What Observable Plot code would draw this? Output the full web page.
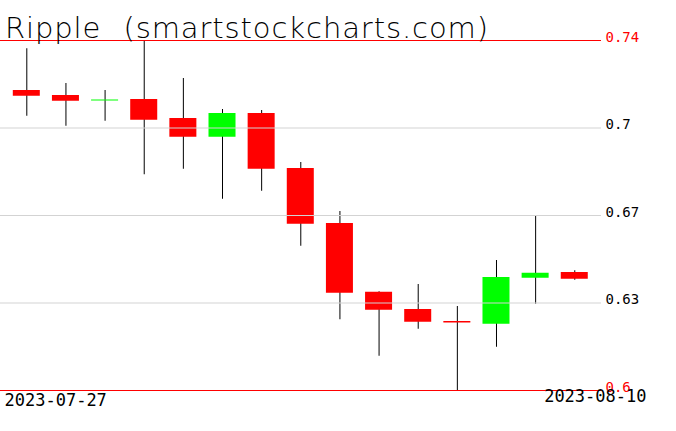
<!DOCTYPE html>
<html>
<head>
<meta charset="utf-8">
<script src="https://cdn.jsdelivr.net/npm/d3@7"></script>
<script src="https://cdn.jsdelivr.net/npm/@observablehq/plot@0.6"></script>
<style>
  html, body { margin: 0; padding: 0; background: #fff; }
  #wrap { position: relative; width: 676px; height: 431px; }
  #title { position: absolute; left: 5px; top: 14px; font-family: "DejaVu Sans ExtraLight", "DejaVu Sans"; font-weight: 200; font-size: 29px; letter-spacing: 0.9px; word-spacing: 12px; color: #000; white-space: nowrap; pointer-events: none; line-height: 1; }
</style>
</head>
<body>
<div id="wrap">
  <div id="chart"></div>
  <div id="title">Ripple (smartstockcharts.com)</div>
</div>
<script>
const dates = ["2023-07-27","2023-07-28","2023-07-29","2023-07-30","2023-07-31","2023-08-01","2023-08-02","2023-08-03","2023-08-04","2023-08-05","2023-08-06","2023-08-07","2023-08-08","2023-08-09","2023-08-10"];
const open  = [0.7200,0.7180,0.7158,0.7164,0.7088,0.7013,0.7108,0.6888,0.6668,0.6393,0.6324,0.6276,0.6265,0.6449,0.6472];
const high  = [0.7367,0.7228,0.7200,0.7396,0.7248,0.7124,0.7120,0.6912,0.6716,0.6395,0.6424,0.6336,0.6520,0.6697,0.6479];
const low   = [0.7097,0.7057,0.7077,0.6863,0.6885,0.6765,0.6797,0.6577,0.6283,0.6137,0.6245,0.6000,0.6173,0.6345,0.6441];
const close = [0.7177,0.7157,0.7162,0.7081,0.7013,0.7108,0.6885,0.6665,0.6389,0.6321,0.6273,0.6270,0.6452,0.6469,0.6445];
const yTicks = [0.6, 0.635, 0.67, 0.705, 0.74];
const yTickLabels = ["0.6", "0.63", "0.67", "0.7", "0.74"];
const dateLabels = [dates[0], dates[dates.length - 1]];

const data = dates.map((d, i) => ({i, date: d, open: open[i], high: high[i], low: low[i], close: close[i]}));
const half = 0.345;
const ticks = yTicks.map((v, k) => ({v, label: yTickLabels[k], edge: k === 0 || k === yTicks.length - 1}));

const chart = Plot.plot({
  width: 676,
  height: 431,
  marginLeft: 0,
  marginRight: 75,
  marginTop: 40,
  marginBottom: 41,
  x: {type: "linear", domain: [-0.672, 14.683], axis: null},
  y: {domain: [0.6, 0.74], axis: null},
  style: {background: "#fff"},
  marks: [
    Plot.ruleX(data, {x: "i", y1: "low", y2: "high", stroke: "#000", strokeWidth: 1}),
    Plot.rect(data, {
      x1: d => d.i - half, x2: d => d.i + half,
      y1: "open", y2: "close",
      fill: d => d.close >= d.open ? "#00ff00" : "#ff0000"
    }),
    Plot.ruleY(ticks.filter(t => !t.edge), {y: "v", stroke: "#d3d3d3", strokeWidth: 1}),
    Plot.ruleY(ticks.filter(t => t.edge), {y: "v", stroke: "#ff0000", strokeWidth: 1}),
    Plot.text(ticks, {
      y: "v", text: "label", frameAnchor: "right", dx: 4, textAnchor: "start", lineAnchor: "bottom",
      fill: d => d.edge ? "#ff0000" : "#000",
      fontFamily: "DejaVu Sans Mono", fontSize: 14, dy: 1
    }),
    Plot.text([dateLabels[0]], {
      frameAnchor: "bottom-left", text: d => d, textAnchor: "start", lineAnchor: "top",
      dx: 4, dy: 3, fontFamily: "DejaVu Sans Mono", fontSize: 17, fill: "#000"
    }),
    Plot.text([dateLabels[1]], {
      frameAnchor: "bottom-right", text: d => d, textAnchor: "end", lineAnchor: "top",
      dx: 45, dy: -1, fontFamily: "DejaVu Sans Mono", fontSize: 17, fill: "#000"
    })
  ]
});
document.getElementById("chart").appendChild(chart);
</script>
</body>
</html>
